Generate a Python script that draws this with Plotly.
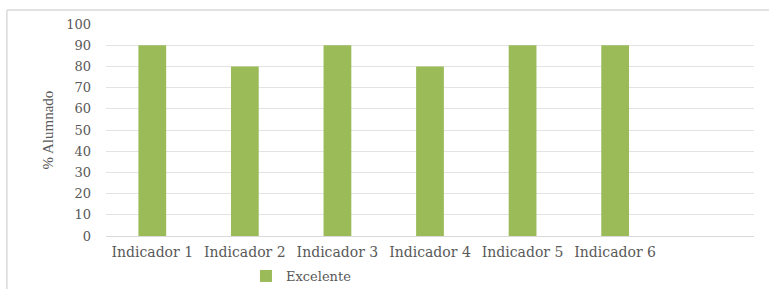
import plotly.graph_objects as go

categories = ["Indicador 1", "Indicador 2", "Indicador 3", "Indicador 4", "Indicador 5", "Indicador 6"]
excelente = [90, 80, 90, 80, 90, 90]
y_ticks = [0, 10, 20, 30, 40, 50, 60, 70, 80, 90, 100]

fig = go.Figure()
fig.add_trace(go.Bar(
    x=categories, y=excelente, name="Excelente",
    marker=dict(color="#9bbb59", line=dict(width=0)),
    width=0.3,
))

fig.update_layout(
    width=769, height=289,
    margin=dict(l=106, r=15, t=24, b=53, autoexpand=False),
    paper_bgcolor="white", plot_bgcolor="white",
    font=dict(family="DejaVu Serif", color="#595959", size=13),
    showlegend=True,
    legend=dict(orientation="h", x=0.216, y=-0.118, xanchor="left", yanchor="top",
                font=dict(family="DejaVu Serif", size=13, color="#595959"),
                itemwidth=30),
    xaxis=dict(type="category", range=[-0.5, 6.5], showgrid=False, showline=True,
               linecolor="#d9d9d9", linewidth=1, ticks="", ticklabelstandoff=3,
               automargin=False,
               tickfont=dict(family="DejaVu Serif", size=14)),
    yaxis=dict(range=[0, 100], tickvals=y_ticks, showgrid=True, gridcolor="#e3e3e3",
               gridwidth=1, zeroline=False, showline=False, ticks="",
               automargin=False, ticklabelstandoff=14,
               tickfont=dict(family="DejaVu Serif", size=13),
               title=dict(text="% Alumnado", standoff=8,
                          font=dict(family="Liberation Serif", size=15, color="#595959"))),
    shapes=[
        dict(type="line", xref="paper", yref="paper", x0=-0.153, x1=1.03, y0=1.066, y1=1.066,
             line=dict(color="#d9d9d9", width=1.5)),
        dict(type="line", xref="paper", yref="paper", x0=-0.153, x1=-0.153, y0=1.066, y1=-0.25,
             line=dict(color="#d9d9d9", width=1.5)),
    ],
)

fig.write_html("out.html", config={"displayModeBar": False},
               post_script="document.body.style.margin='0';document.body.style.overflow='hidden';")
